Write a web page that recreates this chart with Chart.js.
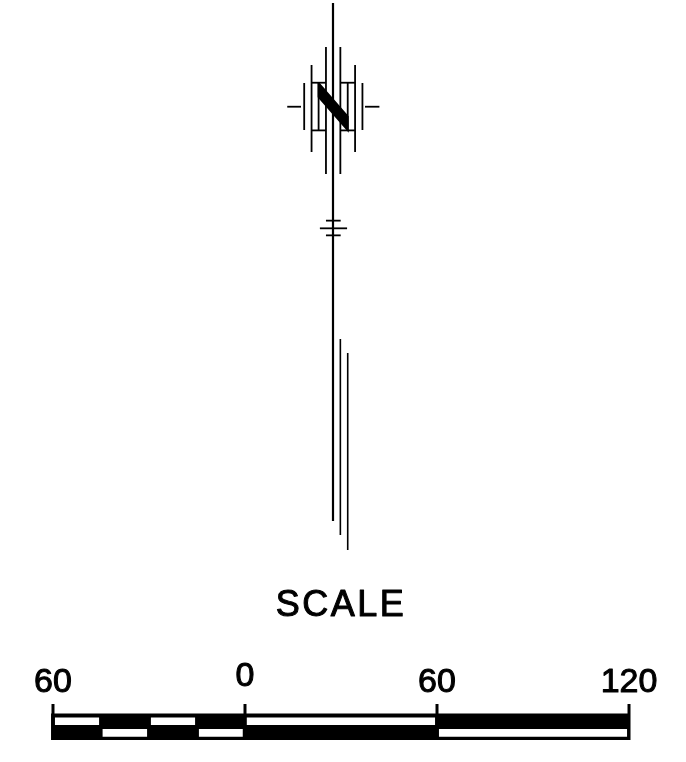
<!DOCTYPE html>
<html>
<head>
<meta charset="utf-8">
<style>
html,body{margin:0;padding:0;background:#fff}
canvas{display:block}
</style>
<script src="https://cdn.jsdelivr.net/npm/chart.js@4"></script>
</head>
<body>
<canvas id="c" width="686" height="762"></canvas>
<script>
'use strict';
// everything is in scale units (the bar's 60 = one long division)

const mast=[[27.5,230.3],[27.5,68.4]];
// north arrow verticals: x, top, bottom
const arrowX=[25.3,29.8,20.8,34.4,18.5,36.7,23.0,32.1];
const arrowTop=[216.6,216.6,210.9,210.9,205.3,205.3,205.3,205.3];
const arrowBottom=[176.9,176.9,183.75,183.75,190.6,190.6,190.6,190.6];
// horizontals: y, from, to
const barY=[205.4,205.4,190.5,190.5,197.9,197.9,162.3,159.9,157.7];
const barFrom=[20.8,29.8,20.8,29.8,13.2,37.5,25.3,23.4,25.3];
const barTo=[25.3,34.4,25.3,34.4,17.5,42.0,29.9,31.9,29.9];
const letterN=[[23.0,205.3],[32.1,194.8],[32.1,190.6],[23.0,201.0],[23.0,205.3]];
// lower long lines
const lowX=[29.8,32.1];
const lowTop=[125.3,120.9];
const lowBottom=[64.1,59.4];

// scale bar
const scaleTicks=[-60,0,60,120];
const scaleLabels=['60','0','60','120'];
const scaleLabelY=[15,16.9,15,15];
const tickTop=11.25;
const barOuter=[-60.6,120.3,0,8.3];
const whiteTopFrom=[-59.4,-29.4,0.5];
const whiteTopTo=[-45.6,-15.6,59.4];
const whiteTopY=[4.7,7.0];
const whiteBottomFrom=[-44.5,-14.4,60.6];
const whiteBottomTo=[-30.6,-0.7,119.4];
const whiteBottomY=[1.0,3.4];
const titleText='SCALE';
const titlePos=[30,38.75];

function line(pts,w,order){
  return {data:pts.map(p=>({x:p[0],y:p[1]})),showLine:true,borderColor:'#000',borderWidth:w,pointRadius:0,fill:false,order:order||1};
}
function rect(x0,x1,y0,y1,col,order){
  return {data:[{x:x0,y:y0},{x:x1,y:y0},{x:x1,y:y1},{x:x0,y:y1},{x:x0,y:y0}],showLine:true,borderColor:col,borderWidth:0,backgroundColor:col,fill:'shape',pointRadius:0,order:order};
}

const datasets=[];
datasets.push(line(mast,2.2));
arrowX.forEach((x,i)=>datasets.push(line([[x,arrowTop[i]],[x,arrowBottom[i]]],1.8)));
barY.forEach((y,i)=>datasets.push(line([[barFrom[i],y],[barTo[i],y]],1.8)));
datasets.push({data:letterN.map(p=>({x:p[0],y:p[1]})),showLine:true,borderColor:'#000',borderWidth:2,backgroundColor:'#000',fill:'shape',pointRadius:0,order:1});
lowX.forEach((x,i)=>datasets.push(line([[x,lowTop[i]],[x,lowBottom[i]]],1.6)));
// bar: black block first, white windows on top
datasets.push(rect(barOuter[0],barOuter[1],barOuter[2],barOuter[3],'#000',5));
whiteTopFrom.forEach((x,i)=>datasets.push(rect(x,whiteTopTo[i],whiteTopY[0],whiteTopY[1],'#fff',3)));
whiteBottomFrom.forEach((x,i)=>datasets.push(rect(x,whiteBottomTo[i],whiteBottomY[0],whiteBottomY[1],'#fff',3)));
scaleTicks.forEach(x=>datasets.push(line([[x,0],[x,tickTop]],3,2)));

const textPlugin={
  id:'cadText',
  afterDatasetsDraw(chart){
    const {ctx,scales:{x,y}}=chart;
    ctx.save();
    ctx.fillStyle='#000';
    ctx.strokeStyle='#000';
    ctx.lineWidth=1;
    ctx.lineJoin='round';
    ctx.textAlign='center';
    ctx.textBaseline='alphabetic';
    ctx.font='34px "Liberation Sans"';
    scaleLabels.forEach((t,i)=>{
      const px=x.getPixelForValue(scaleTicks[i]),py=y.getPixelForValue(scaleLabelY[i]);
      ctx.fillText(t,px,py);
      ctx.strokeText(t,px,py);
    });
    ctx.font='36px "Liberation Sans"';
    ctx.letterSpacing='2.5px';
    const tx=x.getPixelForValue(titlePos[0]),ty=y.getPixelForValue(titlePos[1]);
    ctx.fillText(titleText,tx,ty);
    ctx.strokeText(titleText,tx,ty);
    ctx.restore();
  }
};

new Chart(document.getElementById('c'),{
  type:'scatter',
  data:{datasets},
  options:{
    responsive:false,animation:false,
    layout:{padding:0},
    plugins:{legend:{display:false},tooltip:{enabled:false},title:{display:false}},
    scales:{
      x:{type:'linear',display:false,min:-76.56,max:137.81},
      y:{type:'linear',display:false,min:-6.875,max:231.25}
    }
  },
  plugins:[textPlugin]
});
</script>
</body>
</html>
